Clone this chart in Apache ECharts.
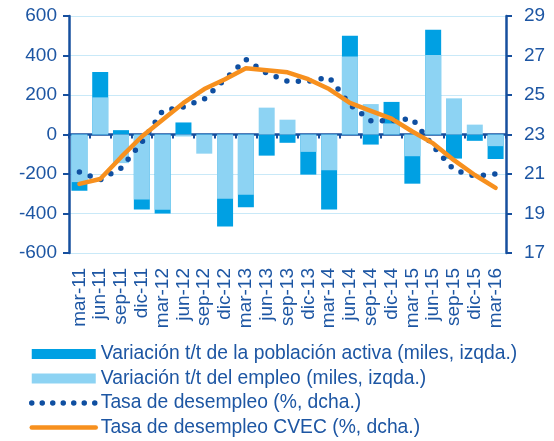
<!DOCTYPE html>
<html><head><meta charset="utf-8">
<script src="https://cdn.jsdelivr.net/npm/echarts@6/dist/echarts.min.js"></script>
<style>html,body{margin:0;padding:0;background:#fff}#c{width:554px;height:441px}</style>
</head><body><div id="c"></div>
<script>
const categories = ['mar-11','jun-11','sep-11','dic-11','mar-12','jun-12','sep-12','dic-12','mar-13','jun-13','sep-13','dic-13','mar-14','jun-14','sep-14','dic-14','mar-15','jun-15','sep-15','dic-15','mar-16'];
const activa = [-285, 317, 22, -380, -400, 61, 3, -466, -368, -107, -42, -203, -380, 500, -51, 165, -249, 530, -122, -32, -124];
const empleo = [-241, 188, -145, -329, -381, -10, -97, -325, -305, 136, 75, -88, -181, 395, 154, 56, -110, 403, 183, 50, -59];
const tasa = [21.1, 20.7, 21.3, 22.6, 24.2, 24.4, 24.8, 25.8, 26.8, 26.1, 25.7, 25.7, 25.9, 24.5, 23.7, 23.7, 23.8, 22.4, 21.2, 20.9, 21.0];
const tasaCVEC = [20.5, 20.75, 21.85, 22.9, 23.75, 24.6, 25.3, 25.8, 26.35, 26.25, 26.15, 25.8, 25.3, 24.6, 24.2, 23.8, 23.15, 22.55, 21.7, 20.95, 20.3];
const seriesNames = ['Variación t/t de la población activa (miles, izqda.)','Variación t/t del empleo (miles, izqda.)','Tasa de desempleo (%, dcha.)','Tasa de desempleo CVEC (%, dcha.)'];

const navy = '#164F9E', txt = '#1D56A3', dotC = '#0F4FA1', orange = '#F7901E';
const chart = echarts.init(document.getElementById('c'), null, {renderer: 'canvas'});
const axisBase = {
  axisLine: {show: true, onZero: false, lineStyle: {color: navy, width: 2.5}},
  axisTick: {show: true, length: 6, lineStyle: {color: navy, width: 2}},
  axisLabel: {fontSize: 19, color: txt, fontFamily: 'Liberation Sans'}
};
chart.setOption({
  animation: false,
  textStyle: {fontFamily: 'Liberation Sans, Arial, sans-serif'},
  grid: {left: 69, right: 48, top: 16, bottom: 188},
  legend: {
    orient: 'vertical', left: 29, top: 344.5, padding: 0, itemWidth: 64, itemHeight: 10, itemGap: 5.5,
    textStyle: {fontSize: 19.3, lineHeight: 19, color: txt, fontFamily: 'Liberation Sans'},
    data: [
      {name: seriesNames[0], icon: 'rect'},
      {name: seriesNames[1], icon: 'rect'},
      {name: seriesNames[2], itemStyle: {opacity: 0}, lineStyle: {width: 5.5, type: [0, 10.5], cap: 'round', color: dotC}},
      {name: seriesNames[3], itemStyle: {opacity: 0}, lineStyle: {width: 4.5, cap: 'round', color: orange}}
    ]
  },
  xAxis: [
    {type: 'category', data: categories, position: 'bottom',
     axisLine: {onZero: true, lineStyle: {color: navy, width: 2.5}},
     axisTick: {show: true, interval: 0, length: 4, lineStyle: {color: navy, width: 2}},
     axisLabel: {show: false}, splitLine: {show: false}},
    {type: 'category', data: categories, position: 'bottom',
     axisLine: {show: false, onZero: false}, axisTick: {show: false},
     axisLabel: {interval: 0, rotate: 90, margin: 15, fontSize: 19, color: txt, fontFamily: 'Liberation Sans'}}
  ],
  yAxis: [
    Object.assign({type: 'value', min: -600, max: 600, interval: 200, position: 'left',
      splitLine: {show: true, lineStyle: {color: '#C9E9F8', width: 1}}}, axisBase,
      {axisLabel: Object.assign({}, axisBase.axisLabel, {margin: 12})}),
    Object.assign({type: 'value', min: 17, max: 29, interval: 2, position: 'right',
      splitLine: {show: false}}, axisBase,
      {axisLabel: Object.assign({}, axisBase.axisLabel, {margin: 18})})
  ],
  series: [
    {name: seriesNames[0], type: 'bar', data: activa, barWidth: 16, barGap: '-100%', itemStyle: {color: '#00A0E3'}},
    {name: seriesNames[1], type: 'bar', data: empleo, barWidth: 16, barGap: '-100%', itemStyle: {color: '#8DD3F3'}},
    {name: seriesNames[2], type: 'line', yAxisIndex: 1, data: tasa, symbol: 'none',
     lineStyle: {color: dotC, width: 5.5, type: [0, 11.5], cap: 'round'}},
    {name: seriesNames[3], type: 'line', yAxisIndex: 1, data: tasaCVEC, symbol: 'none',
     lineStyle: {color: orange, width: 4.5, cap: 'round', join: 'round'}}
  ]
});
</script></body></html>
